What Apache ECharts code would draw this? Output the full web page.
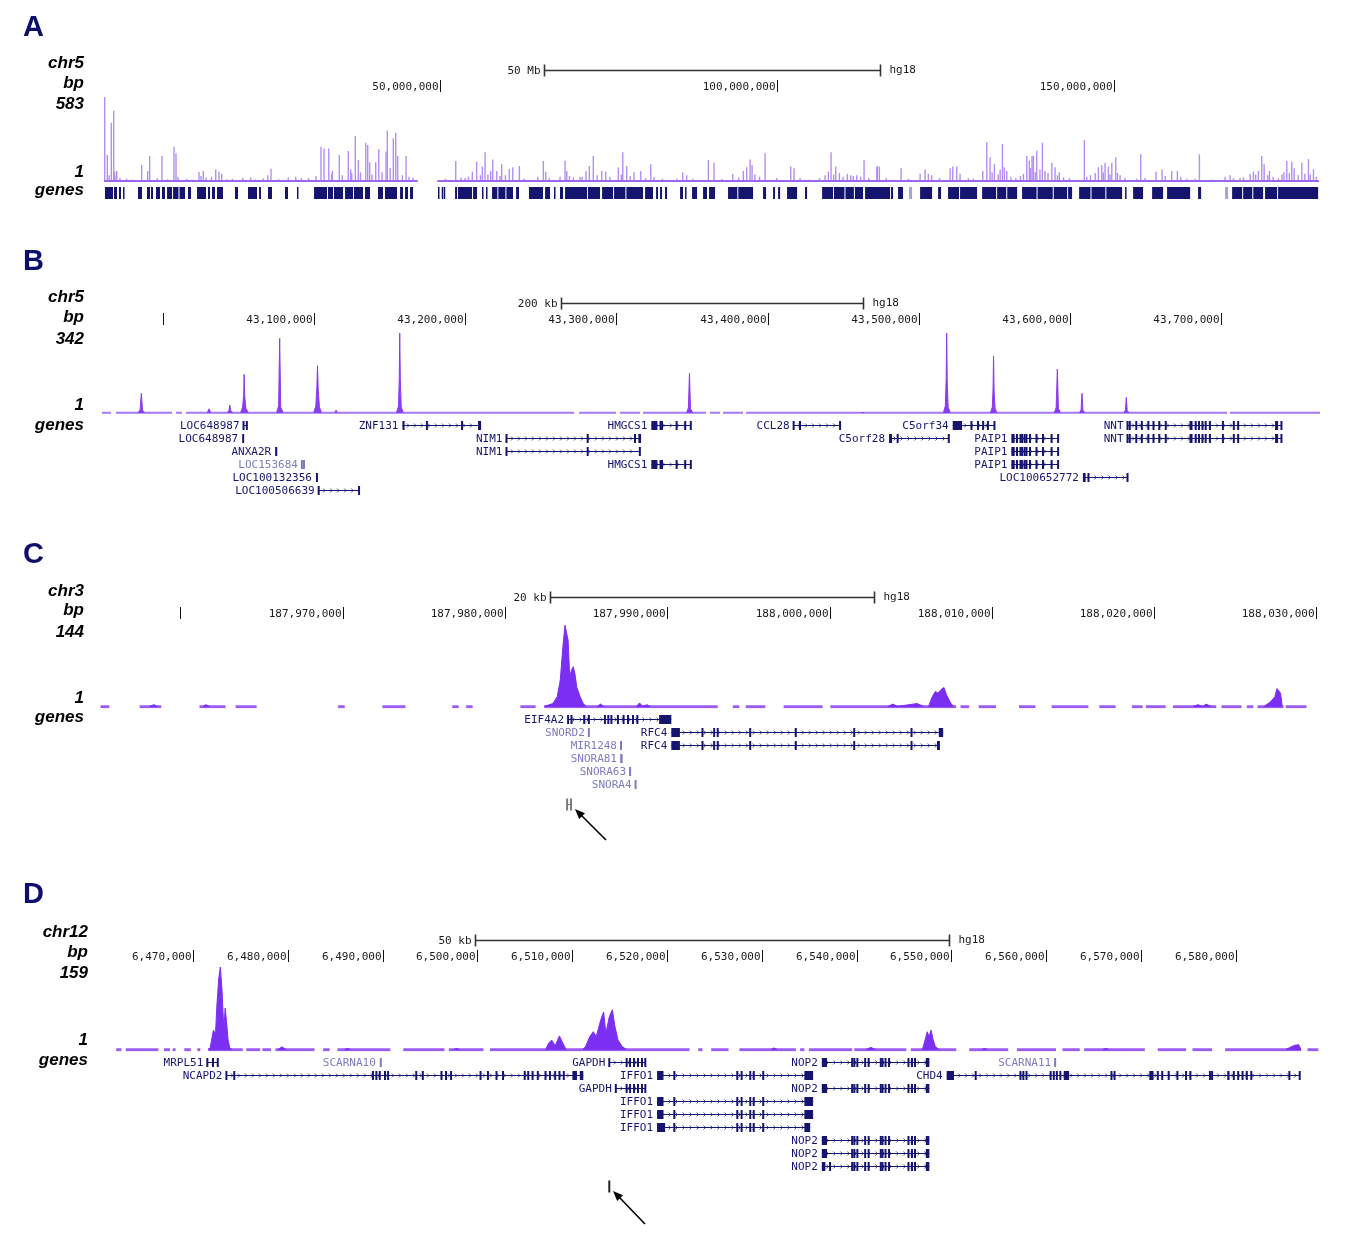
<!DOCTYPE html>
<html>
<head>
<meta charset="utf-8">
<script src="https://cdn.jsdelivr.net/npm/echarts/dist/echarts.min.js"></script>
<style>
html, body { margin: 0; padding: 0; background: #fff; }
#chart { width: 1351px; height: 1249px; }
</style>
</head>
<body>
<div id="chart"></div>
<script>
// ---------- A: chr5, whole chromosome (positions in Mb) ----------
const aTicks = [[50, 1], [100, 1], [150, 1]];
const aScaleBar = [65.43, 115.28];
const aCover = [[0.15, 46.7], [49.6, 180.4]];
const aSpikes = [
  [0.25,583],[0.64,180],[1.23,405],[1.59,488],[1.74,60],[2.03,70],[2.52,20],[5.74,111],[6.63,70],[6.93,173],
  [8.06,20],[8.75,173],[10.53,238],[10.83,190],[11.13,30],[14.24,62],[14.54,35],[14.88,70],[16.72,80],[17.21,65],
  [17.61,50],[20.73,20],[21.91,25],[24.44,40],[24.93,85],[27.49,25],[28.59,30],[29.42,20],[32.34,238],[32.79,226],
  [33.49,226],[34.02,70],[35.06,180],[36.39,208],[36.75,80],[37.43,312],[37.88,145],[38.98,266],[39.27,250],[39.57,130],
  [40.46,130],[40.91,220],[41.99,205],[42.18,349],[43.07,296],[43.43,335],[43.72,173],[44.96,173],[45.99,20],
  [0.9,40],[1.95,35],[3.5,15],[4.3,10],[9.6,12],[12.4,15],[13.2,10],[15.3,25],[16.1,30],[18.4,12],[19.2,15],
  [22.6,10],[23.8,18],[26.1,12],[30.5,20],[31.6,35],[33.9,45],[35.5,40],[36.9,55],[38.2,60],[39.9,45],[41.4,60],
  [42.6,90],[44.4,40],[45.4,30],
  [52.33,139],[53.71,20],[54.79,65],[55.43,134],[56.28,100],[56.68,199],[57.52,70],[57.82,150],[58.41,70],[59.15,117],
  [60.28,85],[60.79,95],[61.77,104],[64.49,30],[65.33,139],[65.68,65],[67.80,30],[68.55,141],[68.80,70],[69.78,25],
  [70.77,30],[71.66,70],[72.15,104],[72.74,173],[73.99,70],[74.58,65],[76.45,95],[77.11,199],[77.69,104],[78.78,60],
  [79.78,70],[81.26,117],[81.75,30],[85.12,15],[86.00,60],[86.59,40],[89.81,145],[90.65,127],[93.43,50],[95.00,70],
  [95.50,95],[96.00,150],[96.29,110],[98.22,192],[99.96,20],[102.03,100],[102.52,88],[103.41,20],[107.12,40],[107.61,65],
  [108.01,199],[108.71,100],[109.24,55],[110.43,50],[110.93,40],[111.82,40],[112.91,145],[114.79,95],
  [50.8,15],[53.1,25],[54.2,30],[56.0,40],[57.1,45],[58.9,35],[59.7,40],[62.5,15],[66.2,20],[69.2,35],[71.1,30],
  [73.3,40],[75.2,30],[76.9,45],[78.2,35],[80.5,20],[83.0,15],[87.5,15],[91.8,12],[94.3,25],[96.7,45],[97.4,30],
  [104.8,10],[106.3,20],[108.4,45],[109.8,30],[111.3,35],[112.4,30],[113.6,20],
  [114.88,104],[115.18,100],[118.40,88],[121.22,50],[121.96,80],[122.45,50],[122.94,40],[125.67,88],[126.06,100],[126.66,100],
  [127.15,50],[128.38,20],[130.52,70],[131.11,269],[131.60,164],[132.24,117],[133.43,257],[133.72,95],[134.08,70],[135.42,20],
  [136.55,50],[137.05,173],[137.43,141],[137.83,173],[138.03,175],[138.53,210],[139.36,266],[139.76,70],[140.76,127],[141.25,95],
  [141.88,60],[143.37,20],[145.59,285],[145.95,30],[147.67,95],[148.17,110],[148.66,127],[149.16,100],[149.66,127],[150.25,164],
  [150.89,40],[153.37,15],[153.96,185],[156.23,65],[157.12,80],[158.56,70],[159.39,70],[162.02,15],[162.66,185],[166.47,30],
  [167.21,40],[167.70,20],[168.69,20],[170.18,50],[170.67,65],[171.41,70],[171.91,173],[172.26,117],[173.05,70],[174.38,20],
  [175.62,139],[176.36,134],[176.71,88],[177.85,127],[178.83,152],[179.58,80],
  [116.2,20],[119.5,15],[124.1,20],[129.1,15],[131.9,60],[132.8,45],[133.1,80],[134.7,30],[136.1,35],[137.6,90],
  [138.3,60],[139.0,80],[140.2,55],[141.6,40],[142.5,25],[146.5,40],[147.2,55],[148.4,60],[149.4,45],[150.5,55],
  [151.6,20],[154.6,20],[157.6,35],[159.9,30],[160.8,15],[164.5,10],[169.2,25],[171.0,45],[172.8,40],[173.6,30],
  [174.9,45],[175.2,60],[176.0,55],[177.3,40],[178.3,50],[179.1,45],[180.0,30]
];
const aGeneBlocks = [
  [0.30,1.48],[1.63,2.08],[2.37,2.67],[2.97,3.12],[5.19,5.79],[6.53,6.97],[7.12,7.42],[7.86,8.46],[8.75,9.20],[9.50,10.24],
  [10.39,11.2],[11.35,12.17],[12.61,13.06],[13.95,15.28],[15.58,15.88],[16.17,16.62],[16.91,17.80],[19.58,20.03],[21.51,22.85],
  [23.15,23.44],[24.48,25.07],[27.00,27.45],[28.78,28.93],[31.31,33.23],[33.38,34.12],[34.27,35.61],[35.91,37.09],[37.24,38.58],
  [38.87,39.61],[40.80,41.54],[41.84,43.62],[44.07,44.51],[44.81,45.25],[45.55,45.99],
  [49.7,49.85],[50.25,50.4],[50.55,50.7],[52.23,52.52],[52.67,54.75],[54.90,55.49],[56.23,56.38],[56.82,56.97],
  [57.72,58.5],[58.65,59.7],[59.85,60.83],[61.28,61.72],[63.20,65.28],[65.58,66.32],[66.91,67.06],[67.80,68.25],
  [68.55,71.81],[71.95,73.74],[74.04,75.67],[75.82,77.5],[77.65,80.12],[80.42,81.60],[82.05,82.34],[82.64,82.94],
  [83.38,83.68],[85.61,86.05],[86.35,86.5],[87.39,88.13],[89.02,89.61],[89.91,90.80],[92.73,94.1],[94.25,96.44],
  [97.92,98.37],[99.41,99.70],[100.15,100.45],[101.48,102.97],[104.15,104.45],[106.68,108.3],[108.45,110.0],
  [110.15,111.4],[111.55,112.76],[113.06,116.77],
  [116.91,117.21],[117.95,118.69],[121.22,123.00],[123.89,124.33],[125.37,127.0],[127.15,129.67],[130.42,132.5],
  [132.65,134.0],[134.15,135.61],[136.35,138.5],[138.65,140.9],[141.05,143.03],[143.18,143.77],[144.81,146.5],
  [146.65,148.7],[148.85,151.19],[151.63,151.78],[152.82,154.30],[155.64,157.27],[157.86,161.28],[162.46,162.91],
  [167.51,169.0],[169.15,170.5],[170.65,172.11],[172.40,174.18],[174.33,180.27]
];
const aGeneLite = [[119.58,120.03],[166.47,166.91]];

// ---------- B: chr5:42.96-43.77 Mb (positions in kb) ----------
const bTicks = [[43000,0],[43100,1],[43200,1],[43300,1],[43400,1],[43500,1],[43600,1],[43700,1]];
const bScaleBar = [43263.4, 43463.4];
const bCover = [[42959.8,42965.7],[42969.0,43006.1],[43008.7,43012.7],[43015.3,43272.0],[43275.3,43299.7],
  [43302.4,43315.6],[43317.6,43359.3],[43361.9,43368.5],[43370.5,43383.7],[43385.7,43703.8],[43705.8,43765.3]];
const bPeaks = [
  [[42983.8,2],[42985.0,14],[42985.8,84],[42986.6,12],[42988.0,2]],
  [[43029.5,2],[43030.6,18],[43031.6,2]],
  [[43042.8,2],[43043.8,12],[43044.3,34],[43045.0,10],[43046.2,2]],
  [[43051.5,2],[43052.8,25],[43053.5,80],[43053.8,165],[43054.2,70],[43055.0,20],[43056.5,2]],
  [[43075.3,2],[43076.6,30],[43077.3,319],[43078.0,25],[43079.5,2]],
  [[43099.8,2],[43101.2,30],[43101.9,110],[43102.3,202],[43102.8,100],[43103.6,25],[43105.0,2]],
  [[43113.8,2],[43114.6,12],[43115.4,2]],
  [[43154.6,2],[43155.9,30],[43156.4,150],[43156.7,342],[43157.1,140],[43157.7,25],[43159.0,2]],
  [[43346.5,2],[43347.6,22],[43348.3,170],[43349.0,18],[43350.4,2]],
  [[43462.3,2],[43463.0,10],[43463.7,2]],
  [[43516.3,2],[43517.5,30],[43518.1,150],[43518.4,342],[43518.8,130],[43519.4,25],[43520.8,2]],
  [[43547.4,2],[43548.6,25],[43549.1,110],[43549.4,244],[43549.8,90],[43550.4,20],[43551.6,2]],
  [[43589.6,2],[43590.8,22],[43591.6,187],[43592.3,20],[43593.6,2]],
  [[43606.4,2],[43607.3,14],[43607.9,84],[43608.5,12],[43609.7,2]],
  [[43635.7,2],[43636.6,12],[43637.2,67],[43637.8,10],[43639.0,2]]
];
const nntExons = [43638,43639.5,43643.8,43647.5,43651.8,43655.2,43659.0,43663.3,[43679.0,43681.0],43683.1,43685.3,
  43687.6,43689.7,43692.5,43701.1,43708.3,43711.2,[43735.6,43737.6],43739.8];
const paip1Exons = [[43561.2,43563.4],43564.9,43567.2,43568.3,43570.0,43571.2,43573.5,43577.8,43582.1,43587.8,43592.1];
const hmgcs1Exons = [[43323.1,43327.1],[43328.5,43330.8],43339.8,43345.5,43349.2];
// [name, row, start, end, exons, style]  style: 0 coding, 1 non-coding, 2 grey mark, 3 dark mark
const bGenes = [
  ['LOC648987', 0, 43053.4, 43055.6, [43053.4, 43055.6], 0],
  ['ZNF131', 0, 43158.5, 43210.5, [[43158.5,43159.9], 43174.7, 43197.9, [43208.5,43210.5]], 0],
  ['HMGCS1', 0, 43323.1, 43349.2, hmgcs1Exons, 0],
  ['CCL28', 0, 43417.2, 43447.9, [43417.2, 43421.4, 43447.9], 0],
  ['C5orf34', 0, 43522.4, 43550.0, [[43522.4,43528.6], 43534.8, 43539.1, 43542.5, 43545.7, 43550.0], 0],
  ['NNT', 0, 43638.0, 43739.8, nntExons, 0],
  ['LOC648987', 1, 43052.5, 43053.8, [[43052.5,43053.8]], 0],
  ['NIM1', 1, 43227.3, 43316.3, [43227.3, 43281.0, 43312.3, [43314.5,43316.3]], 0],
  ['C5orf28', 1, 43480.3, 43519.8, [[43480.3,43482.3], 43486.0, 43519.8], 0],
  ['PAIP1', 1, 43561.2, 43592.1, paip1Exons, 0],
  ['NNT', 1, 43638.0, 43739.8, nntExons, 0],
  ['ANXA2R', 2, 43074.3, 43075.7, [[43074.3,43075.7]], 0],
  ['NIM1', 2, 43227.3, 43315.5, [43227.3, 43281.0, 43315.5], 0],
  ['PAIP1', 2, 43561.2, 43592.1, paip1Exons, 0],
  ['LOC153684', 3, 43092.0, 43093.4, [43092.0, 43093.4], 1],
  ['HMGCS1', 3, 43323.1, 43349.2, hmgcs1Exons, 0],
  ['PAIP1', 3, 43561.2, 43592.1, paip1Exons, 0],
  ['LOC100132356', 4, 43101.3, 43102.6, [[43101.3,43102.6]], 0],
  ['LOC100652772', 4, 43608.5, 43638.0, [[43608.5,43610.3], 43612.2, 43638.0], 0],
  ['LOC100506639', 5, 43103.1, 43129.8, [43103.1, 43129.8], 0]
];

// ---------- C: chr3:187.955-188.030 Mb (positions in kb) ----------
const cTicks = [[187960,0],[187970,1],[187980,1],[187990,1],[188000,1],[188010,1],[188020,1],[188030,1]];
const cScaleBar = [187982.77, 188002.74];
const cCover = [[187955.08,187955.62],[187957.49,187958.82],[187961.18,187962.78],[187963.40,187964.70],
  [187969.72,187970.13],[187972.45,187973.87],[187976.75,187977.15],[187977.61,187978.01],[187980.95,187981.89],
  [187982.42,187993.11],[187994.04,187994.44],[187994.84,187996.04],[187997.17,187999.57],[188000.05,188007.80],
  [188008.07,188008.60],[188009.19,188010.26],[188011.67,188012.69],[188013.68,188015.95],[188016.62,188017.63],
  [188018.63,188019.29],[188019.50,188020.71],[188021.16,188023.83],[188024.15,188025.38],[188025.71,188026.11],
  [188026.37,188027.97],[188028.11,188029.39]];
const cPeaks = [
  [[187958.1,1],[187958.37,4],[187958.6,1]],
  [[187961.4,1],[187961.58,4],[187961.8,1]],
  [[187982.42,1],[187982.95,6],[187983.22,18],[187983.41,47],[187983.57,105],[187983.70,142],[187983.78,144],
   [187983.89,116],[187983.99,53],[187984.10,64],[187984.21,70],[187984.31,58],[187984.42,35],[187984.63,18],
   [187984.82,6],[187985.01,1]],
  [[187985.7,1],[187985.89,5],[187986.1,1]],
  [[187988.1,1],[187988.29,7],[187988.5,1],[187988.75,4],[187988.95,1]],
  [[188003.6,1],[188003.9,5],[188004.2,1],[188004.9,4],[188005.4,6],[188005.8,1]],
  [[188006.10,1],[188006.33,18],[188006.52,27],[188006.68,24],[188006.86,30],[188007.05,34],[188007.21,21],
   [188007.48,6],[188007.66,1]],
  [[188022.4,1],[188022.7,4],[188023.0,1],[188023.2,5],[188023.5,1]],
  [[188026.77,1],[188027.17,9],[188027.44,18],[188027.57,32],[188027.68,34],[188027.79,24],[188027.89,1]]
];
const rfc4Exons = [[187990.25,187990.78],187992.17,187992.89,187993.11,187995.11,187997.92,188001.52,188005.05];
const cGenes = [
  ['EIF4A2', 0, 187983.89, 187990.25, [187983.89,187984.10,[187984.82,187984.95],187985.17,187986.16,187986.37,
    187986.56,187986.96,187987.31,187987.58,187987.89,187988.16,[187989.50,187990.25]], 0],
  ['SNORD2', 1, 187985.17, 187985.17, [187985.17], 1],
  ['RFC4', 1, 187990.25, 188007.00, rfc4Exons.concat([[188006.73,188007.00]]), 0],
  ['MIR1248', 2, 187987.15, 187987.15, [187987.15], 1],
  ['RFC4', 2, 187990.25, 188006.80, rfc4Exons.concat([[188006.62,188006.80]]), 0],
  ['SNORA81', 3, 187987.15, 187987.15, [[187987.10,187987.25]], 1],
  ['SNORA63', 4, 187987.71, 187987.71, [187987.71], 1],
  ['SNORA4', 5, 187988.05, 187988.05, [187988.05], 1],
  ['', 6.5, 187983.83, 187984.07, [187983.83, 187984.07], 2]
];

// ---------- D: chr12:6.46-6.59 Mb (positions in kb) ----------
const dTicks = [[6470,1],[6480,1],[6490,1],[6500,1],[6510,1],[6520,1],[6530,1],[6540,1],[6550,1],[6560,1],[6570,1],[6580,1]];
const dScaleBar = [6499.75, 6549.75];
const dCover = [[6461.90,6462.45],[6462.91,6466.34],[6466.93,6467.57],[6467.85,6468.16],[6469.08,6469.77],
  [6470.45,6470.77],[6471.60,6475.25],[6475.62,6477.09],[6477.32,6478.23],[6478.69,6482.81],[6483.72,6484.41],
  [6485.23,6490.81],[6492.18,6496.53],[6496.98,6500.64],[6501.33,6522.37],[6523.29,6523.74],[6524.66,6526.49],
  [6527.64,6533.59],[6534.04,6534.49],[6534.96,6539.53],[6539.76,6545.24],[6545.71,6550.51],[6551.88,6555.99],
  [6556.91,6561.03],[6561.72,6563.54],[6564.00,6570.40],[6571.77,6574.75],[6575.43,6577.50],[6578.87,6586.88],
  [6587.56,6588.70]];
const dPeaks = [
  [[6471.60,1],[6471.82,5],[6472.15,38],[6472.37,30],[6472.51,83],[6472.70,134],[6472.88,159],[6473.06,115],
   [6473.25,38],[6473.39,80],[6473.52,57],[6473.70,19],[6473.88,4],[6474.10,1]],
  [[6479.0,1],[6479.38,6],[6479.8,1]],
  [[6486.0,1],[6486.3,3],[6486.6,1]],
  [[6497.5,1],[6497.8,3],[6498.1,1]],
  [[6507.20,1],[6507.51,13],[6507.83,19],[6508.20,8],[6508.65,27],[6509.02,13],[6509.34,1]],
  [[6511.10,1],[6511.39,6],[6511.86,26],[6512.22,35],[6512.54,26],[6513.00,57],[6513.31,73],[6513.55,32],
   [6513.92,64],[6514.23,77],[6514.51,45],[6514.83,19],[6515.29,6],[6515.74,1]],
  [[6531.0,1],[6531.3,4],[6531.6,1]],
  [[6541.0,1],[6541.5,5],[6542.0,1]],
  [[6546.94,1],[6547.22,19],[6547.45,35],[6547.63,26],[6547.86,38],[6548.04,22],[6548.31,6],[6548.70,1]],
  [[6553.2,1],[6553.5,3],[6553.8,1]],
  [[6566.0,1],[6566.3,3],[6566.6,1]],
  [[6585.27,1],[6585.73,5],[6586.19,9],[6586.64,10],[6586.88,1]]
];
const iffo1Exons = [[6518.95,6519.63],6520.77,6527.41,6527.87,6528.78,6529.15,6530.15,[6534.49,6535.41]];
const nop2Exons = [[6536.33,6536.88],6539.53,6539.76,6540.08,6540.90,6541.27,6542.55,6542.73,6543.05,6543.42,
  6545.47,6545.84,6546.16,[6547.30,6547.67]];
const gapdhExons = [6515.74,6516.10,6516.52,6516.94,6517.36,6517.71];
const dGenes = [
  ['MRPL51', 0, 6471.51, 6472.61, [6471.51, [6472.0,6472.15], 6472.61], 0],
  ['SCARNA10', 0, 6489.70, 6489.85, [[6489.70,6489.85]], 1],
  ['GAPDH', 0, 6513.91, 6517.71, [6513.91].concat(gapdhExons), 0],
  ['NOP2', 0, 6536.33, 6547.67, nop2Exons, 0],
  ['SCARNA11', 0, 6560.94, 6560.94, [6560.94], 1],
  ['NCAPD2', 1, 6473.52, 6511.17, [6473.52,6474.35,6488.98,6489.34,6489.70,6490.25,6490.58,6493.55,6494.24,
    6496.21,6496.69,6497.22,6500.33,6501.11,6502.01,6502.70,6504.99,6505.36,6505.82,6506.37,6507.18,6507.65,
    6508.20,6508.65,6509.11,[6510.02,6510.50],[6510.80,6511.17]], 0],
  ['IFFO1', 1, 6518.95, 6535.41, iffo1Exons, 0],
  ['CHD4', 1, 6549.50, 6586.74, [[6549.50,6550.27],6552.56,6557.28,6557.59,6557.92,6560.47,6560.80,6561.12,
    6561.49,[6561.85,6562.41],6566.88,6567.21,[6570.87,6571.32],6571.77,6572.24,6572.92,6573.84,6574.75,6575.21,
    6577.27,6577.50,[6579.10,6579.34],6579.79,6580.25,6580.71,6581.16,6581.63,6585.65,6586.74], 0],
  ['GAPDH', 2, 6514.60, 6517.71, [6514.60].concat(gapdhExons), 0],
  ['NOP2', 2, 6536.33, 6547.67, nop2Exons, 0],
  ['IFFO1', 3, 6518.95, 6535.41, iffo1Exons, 0],
  ['IFFO1', 4, 6518.95, 6535.41, iffo1Exons, 0],
  ['IFFO1', 5, 6518.95, 6535.10, [[6518.95,6519.80],6520.77,6527.41,6527.87,6528.78,6529.15,6530.15,[6534.49,6535.10]], 0],
  ['NOP2', 6, 6536.33, 6547.67, nop2Exons, 0],
  ['NOP2', 7, 6536.33, 6547.67, nop2Exons, 0],
  ['NOP2', 8, 6536.33, 6547.67, [[6536.33,6536.70],6537.2].concat(nop2Exons.slice(1)), 0],
  ['', 9.5, 6513.91, 6513.91, [6513.91], 3]
];

// ---------- layout ----------
const NAVY = '#15156f';
const GENE_COLORS = [NAVY, '#7c7cbf', '#7a7a7a', '#222222'];
const MONO = '"DejaVu Sans Mono", monospace';
const SANS = '"Liberation Sans", Arial, sans-serif';

const panels = [
  { letter: 'A', letterY: 28, sideX: 84, side: [['chr5', 63], ['bp', 83], ['583', 104], ['1', 172], ['genes', 190]],
    unit: 1e6, xMin: 0, xMax: 180.4, left: 103, width: 1216, rulerTop: 70, sigTop: 97, sigH: 84, yMax: 583,
    geneTop: 186.5, rows: 1, ticks: aTicks, scaleBar: aScaleBar, scaleText: '50 Mb',
    cover: aCover, coverColor: '#9a68ee', coverW: 2, peakColor: '#b48ef3' },
  { letter: 'B', letterY: 262, sideX: 84, side: [['chr5', 297], ['bp', 317], ['342', 339], ['1', 405], ['genes', 425]],
    unit: 1e3, xMin: 42959.8, xMax: 43765.3, left: 102, width: 1218, rulerTop: 303, sigTop: 333, sigH: 80, yMax: 342,
    geneTop: 418.5, rows: 6, ticks: bTicks, scaleBar: bScaleBar, scaleText: '200 kb',
    cover: bCover, coverColor: '#a57af2', coverW: 2, peaks: bPeaks, peakColor: '#8a3cf0', genes: bGenes },
  { letter: 'C', letterY: 555, sideX: 84, side: [['chr3', 591], ['bp', 610], ['144', 632], ['1', 698], ['genes', 717]],
    unit: 1e3, xMin: 187955.11, xMax: 188030.22, left: 101, width: 1219, rulerTop: 597, sigTop: 624, sigH: 83, yMax: 144,
    geneTop: 712.5, rows: 8, ticks: cTicks, scaleBar: cScaleBar, scaleText: '20 kb',
    cover: cCover, coverColor: '#9a5cf2', coverW: 3, peaks: cPeaks, peakColor: '#7b2ff2', genes: cGenes },
  { letter: 'D', letterY: 895, sideX: 88, side: [['chr12', 932], ['bp', 952], ['159', 973], ['1', 1040], ['genes', 1060]],
    unit: 1e3, xMin: 6460.61, xMax: 6588.88, left: 104, width: 1216, rulerTop: 940, sigTop: 967, sigH: 83, yMax: 159,
    geneTop: 1055.5, rows: 11, ticks: dTicks, scaleBar: dScaleBar, scaleText: '50 kb',
    cover: dCover, coverColor: '#9a5cf2', coverW: 3, peaks: dPeaks, peakColor: '#7b2ff2', genes: dGenes }
];

const fmtBp = (v, unit) => Math.round(v * unit).toLocaleString('en-US');
const crisp = v => Math.round(v) + 0.5;

// coverage segments -> one broken line
function segLine(segs, v) {
  const out = [];
  segs.forEach((s, k) => {
    if (k) out.push([(segs[k - 1][1] + s[0]) / 2, '-']);
    out.push([s[0], v], [s[1], v]);
  });
  return out;
}
function peakLine(peaks) {
  const out = [];
  peaks.forEach((pk, k) => {
    if (k) out.push([(peaks[k - 1][peaks[k - 1].length - 1][0] + pk[0][0]) / 2, '-']);
    pk.forEach(d => out.push(d));
  });
  return out;
}

function rulerSeries(p, ax) {
  return {
    type: 'custom', xAxisIndex: ax, yAxisIndex: ax, silent: true, clip: false,
    data: p.ticks,
    renderItem: (params, api) => {
      const pt = api.coord([api.value(0), 0]);
      const x = crisp(pt[0]);
      const kids = [{ type: 'line', shape: { x1: x, y1: pt[1] - 6, x2: x, y2: pt[1] + 6 }, style: { stroke: '#111', lineWidth: 1 } }];
      if (api.value(1)) kids.push({ type: 'text', style: { text: fmtBp(api.value(0), p.unit), x: x - 2, y: pt[1] + 1,
        align: 'right', verticalAlign: 'middle', fontFamily: MONO, fontSize: 11, fill: '#1a1a1a' } });
      return { type: 'group', children: kids };
    }
  };
}

function scaleSeries(p, ax) {
  return {
    type: 'custom', xAxisIndex: ax, yAxisIndex: ax, silent: true, clip: false,
    data: [p.scaleBar],
    renderItem: (params, api) => {
      const a = api.coord([api.value(0), 1]), b = api.coord([api.value(1), 1]);
      const y = crisp(a[1]);
      const x1 = crisp(a[0]), x2 = crisp(b[0]);
      return { type: 'group', children: [
        { type: 'line', shape: { x1, y1: y, x2, y2: y }, style: { stroke: '#333', lineWidth: 1.6 } },
        { type: 'line', shape: { x1, y1: y - 6, x2: x1, y2: y + 6 }, style: { stroke: '#333', lineWidth: 1.6 } },
        { type: 'line', shape: { x1: x2, y1: y - 6, x2, y2: y + 6 }, style: { stroke: '#333', lineWidth: 1.6 } },
        { type: 'text', style: { text: p.scaleText, x: x1 - 4, y: y + 1, align: 'right', verticalAlign: 'middle', fontFamily: MONO, fontSize: 11, fill: '#1a1a1a' } },
        { type: 'text', style: { text: 'hg18', x: x2 + 9, y: y, align: 'left', verticalAlign: 'middle', fontFamily: MONO, fontSize: 11, fill: '#1a1a1a' } }
      ] };
    }
  };
}

function geneSeries(list, ax) {
  return {
    type: 'custom', xAxisIndex: ax, yAxisIndex: ax, silent: true, clip: false,
    data: list.map((g, i) => [g[2], g[3], g[1], i]),
    renderItem: (params, api) => {
      const g = list[params.dataIndex];
      const color = GENE_COLORS[g[5]];
      const a = api.coord([g[2], g[1]]), b = api.coord([g[3], g[1]]);
      const y = Math.round(a[1]) + 0.5;
      const h = g[5] >= 2 ? 12 : 9;
      const kids = [];
      if (b[0] - a[0] > 3) {
        kids.push({ type: 'line', shape: { x1: a[0], y1: y, x2: b[0], y2: y }, style: { stroke: color, lineWidth: 1 } });
        for (let x = a[0] + 6; x < b[0] - 3; x += 7) {
          kids.push({ type: 'polyline', shape: { points: [[x - 1.5, y - 2], [x + 0.5, y], [x - 1.5, y + 2]] },
            style: { stroke: color, lineWidth: 1, fill: null, opacity: 0.75 } });
        }
      }
      g[4].forEach(ex => {
        const pair = Array.isArray(ex);
        const p0 = api.coord([pair ? ex[0] : ex, g[1]])[0];
        const p1 = api.coord([pair ? ex[1] : ex, g[1]])[0];
        const w = Math.max(2, p1 - p0);
        kids.push({ type: 'rect', shape: { x: pair ? p0 : p0 - 1, y: y - h / 2, width: w, height: h }, style: { fill: color } });
      });
      if (g[0]) kids.push({ type: 'text', style: { text: g[0], x: a[0] - 4, y: y + 1, align: 'right', verticalAlign: 'middle',
        fontFamily: MONO, fontSize: 11, fill: color } });
      return { type: 'group', children: kids };
    }
  };
}

function blockSeries(blocks, ax, color) {
  return {
    type: 'custom', xAxisIndex: ax, yAxisIndex: ax, silent: true,
    data: blocks,
    renderItem: (params, api) => {
      const a = api.coord([api.value(0), 0]), b = api.coord([api.value(1), 0]);
      return { type: 'rect', shape: { x: a[0], y: a[1] - 6, width: Math.max(1.5, b[0] - a[0]), height: 12 }, style: { fill: color } };
    }
  };
}

const grid = [], xAxis = [], yAxis = [], series = [], graphic = [];
panels.forEach((p, i) => {
  const r = 3 * i, s = r + 1, g = r + 2;
  grid.push({ left: p.left, width: p.width, top: p.rulerTop, height: 16 });
  grid.push({ left: p.left, width: p.width, top: p.sigTop, height: p.sigH });
  grid.push({ left: p.left, width: p.width, top: p.geneTop, height: 13 * p.rows });
  [r, s, g].forEach(k => xAxis.push({ type: 'value', gridIndex: k, min: p.xMin, max: p.xMax, show: false }));
  yAxis.push({ type: 'value', gridIndex: r, min: 0, max: 1, show: false });
  yAxis.push({ type: 'value', gridIndex: s, min: 0, max: p.yMax, show: false });
  yAxis.push({ type: 'value', gridIndex: g, min: -0.5, max: p.rows - 0.5, inverse: true, show: false });

  series.push(rulerSeries(p, r), scaleSeries(p, r));
  if (i === 0) {
    series.push({ type: 'bar', xAxisIndex: s, yAxisIndex: s, data: aSpikes, barWidth: 1.4, silent: true,
      itemStyle: { color: p.peakColor }, z: 2 });
    series.push(blockSeries(aGeneBlocks, g, NAVY), blockSeries(aGeneLite, g, '#a4a4d0'));
  } else {
    series.push({ type: 'line', xAxisIndex: s, yAxisIndex: s, data: peakLine(p.peaks), symbol: 'none', silent: true,
      lineStyle: { color: p.peakColor, width: 1 }, areaStyle: { color: p.peakColor, opacity: 1, origin: 'start' }, z: 3 });
    series.push(geneSeries(p.genes, g));
  }
  series.push({ type: 'line', xAxisIndex: s, yAxisIndex: s, data: segLine(p.cover, 0.6), symbol: 'none', silent: true,
    lineStyle: { color: p.coverColor, width: p.coverW }, z: 2 });

  graphic.push({ type: 'text', x: 23, y: p.letterY, z: 100,
    style: { text: p.letter, font: 'bold 29px ' + SANS, fill: '#0e0e6c', verticalAlign: 'middle' } });
  p.side.forEach(([t, y]) => graphic.push({ type: 'text', x: p.sideX, y, z: 100,
    style: { text: t, font: 'italic bold 17px ' + SANS, fill: '#000', align: 'right', verticalAlign: 'middle' } }));
});

// arrows pointing at the marks under panels C and D
[[606, 840, 575, 809], [645, 1224, 613, 1191]].forEach(([x1, y1, x2, y2]) => {
  graphic.push({ type: 'line', z: 100, shape: { x1, y1, x2: x2 + 6, y2: y2 + 6 }, style: { stroke: '#000', lineWidth: 1.6 } });
  graphic.push({ type: 'polygon', z: 100, shape: { points: [[x2, y2], [x2 + 10, y2 + 4.2], [x2 + 4.2, y2 + 10]] }, style: { fill: '#000' } });
});

const chart = echarts.init(document.getElementById('chart'), null, { renderer: 'canvas' });
chart.setOption({ animation: false, backgroundColor: '#fff', grid, xAxis, yAxis, series, graphic });
</script>
</body>
</html>
